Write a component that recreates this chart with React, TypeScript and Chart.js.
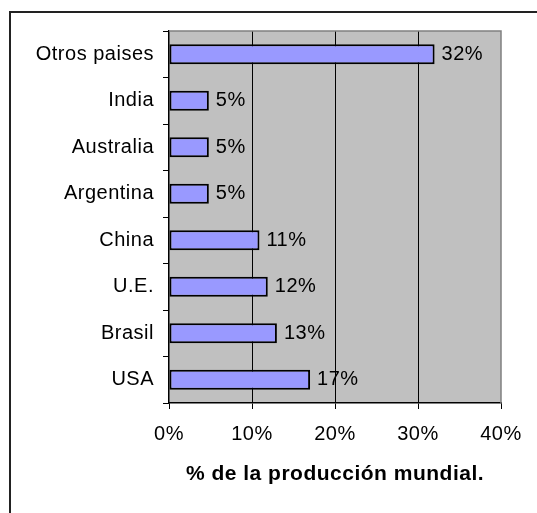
import React, { useEffect, useRef } from "react";
import { Chart, registerables } from "chart.js";

Chart.register(...registerables);

const categories = ["Otros paises", "India", "Australia", "Argentina", "China", "U.E.", "Brasil", "USA"];
const shares = [32, 4.8, 4.8, 4.8, 10.9, 11.9, 13, 17];
const xTickValues = [0, 10, 20, 30, 40];
const xTitle = "% de la producción mundial.";

const FONT = "'Liberation Sans', Arial, sans-serif";

const framePlugin = {
  id: "frame",
  beforeDraw(chart: any) {
    const ctx = chart.ctx;
    const a = chart.chartArea;
    ctx.save();
    ctx.fillStyle = "#ffffff";
    ctx.fillRect(0, 0, chart.width, chart.height);
    ctx.fillStyle = "#222222";
    ctx.fillRect(9, 11, chart.width - 9, 2);
    ctx.fillRect(9, 11, 2, chart.height - 11);
    ctx.fillStyle = "#c0c0c0";
    ctx.fillRect(a.left, a.top, a.right - a.left, a.bottom - a.top);
    ctx.restore();
    ctx.letterSpacing = "0.5px";
  },
  beforeDatasetsDraw(chart: any) {
    const ctx = chart.ctx;
    const a = chart.chartArea;
    ctx.save();
    ctx.strokeStyle = "#808080";
    ctx.lineWidth = 1.5;
    ctx.beginPath();
    ctx.moveTo(a.left, a.top);
    ctx.lineTo(a.right, a.top);
    ctx.lineTo(a.right, a.bottom);
    ctx.stroke();
    ctx.restore();
  },
  afterDatasetsDraw(chart: any) {
    const ctx = chart.ctx;
    const meta = chart.getDatasetMeta(0);
    ctx.save();
    ctx.font = `20px ${FONT}`;
    ctx.fillStyle = "#000";
    ctx.textAlign = "left";
    ctx.textBaseline = "middle";
    meta.data.forEach((bar: any, i: number) => {
      ctx.fillText(`${Math.round(shares[i])}%`, bar.x + 7, bar.y);
    });
    ctx.restore();
  },
};

export default function App() {
  const ref = useRef<HTMLCanvasElement | null>(null);

  useEffect(() => {
    if (!ref.current) return;
    Chart.defaults.font.family = FONT;
    Chart.defaults.color = "#000";
    const chart = new Chart(ref.current, {
      type: "bar",
      data: {
        labels: categories,
        datasets: [
          {
            data: shares,
            backgroundColor: "#9999ff",
            borderColor: "#000000",
            borderWidth: 2,
            borderSkipped: false,
            barPercentage: 0.43,
            categoryPercentage: 1,
          },
        ],
      },
      options: {
        indexAxis: "y",
        responsive: false,
        animation: false,
        layout: { padding: { top: 31, left: 0, right: 36, bottom: 0 } },
        plugins: { legend: { display: false }, tooltip: { enabled: false } },
        scales: {
          x: {
            type: "linear",
            min: xTickValues[0],
            max: xTickValues[xTickValues.length - 1],
            ticks: {
              stepSize: xTickValues[1] - xTickValues[0],
              callback: (v: any) => `${v}%`,
              padding: 13,
              font: { size: 20 },
              color: "#000",
            },
            grid: {
              color: (c: any) =>
                c.tick && c.tick.value > xTickValues[0] && c.tick.value < xTickValues[xTickValues.length - 1]
                  ? "#000"
                  : "rgba(0,0,0,0)",
              lineWidth: 1,
              tickColor: "#000",
              tickLength: 6,
            },
            border: { color: "#000", width: 1.5 },
            title: {
              display: true,
              text: xTitle,
              color: "#000",
              font: { size: 21, weight: "bold" },
              padding: { top: 0, bottom: 26 },
            },
            afterFit(s: any) {
              s.height = 110;
              s.paddingLeft = 0;
              s.paddingRight = 0;
            },
          },
          y: {
            type: "category",
            grid: {
              offset: true,
              drawOnChartArea: false,
              color: "#000",
              tickColor: "#000",
              tickLength: 6,
            },
            border: { color: "#000", width: 1.5 },
            ticks: { padding: 9, font: { size: 20 }, color: "#000" },
            afterFit(s: any) {
              s.width = 169;
              s.paddingTop = 0;
              s.paddingBottom = 0;
            },
          },
        },
      } as any,
      plugins: [framePlugin],
    });
    return () => chart.destroy();
  }, []);

  return (
    <canvas
      ref={ref}
      width={537}
      height={513}
      style={{ position: "absolute", left: 0, top: 0, width: 537, height: 513, display: "block" }}
    />
  );
}
